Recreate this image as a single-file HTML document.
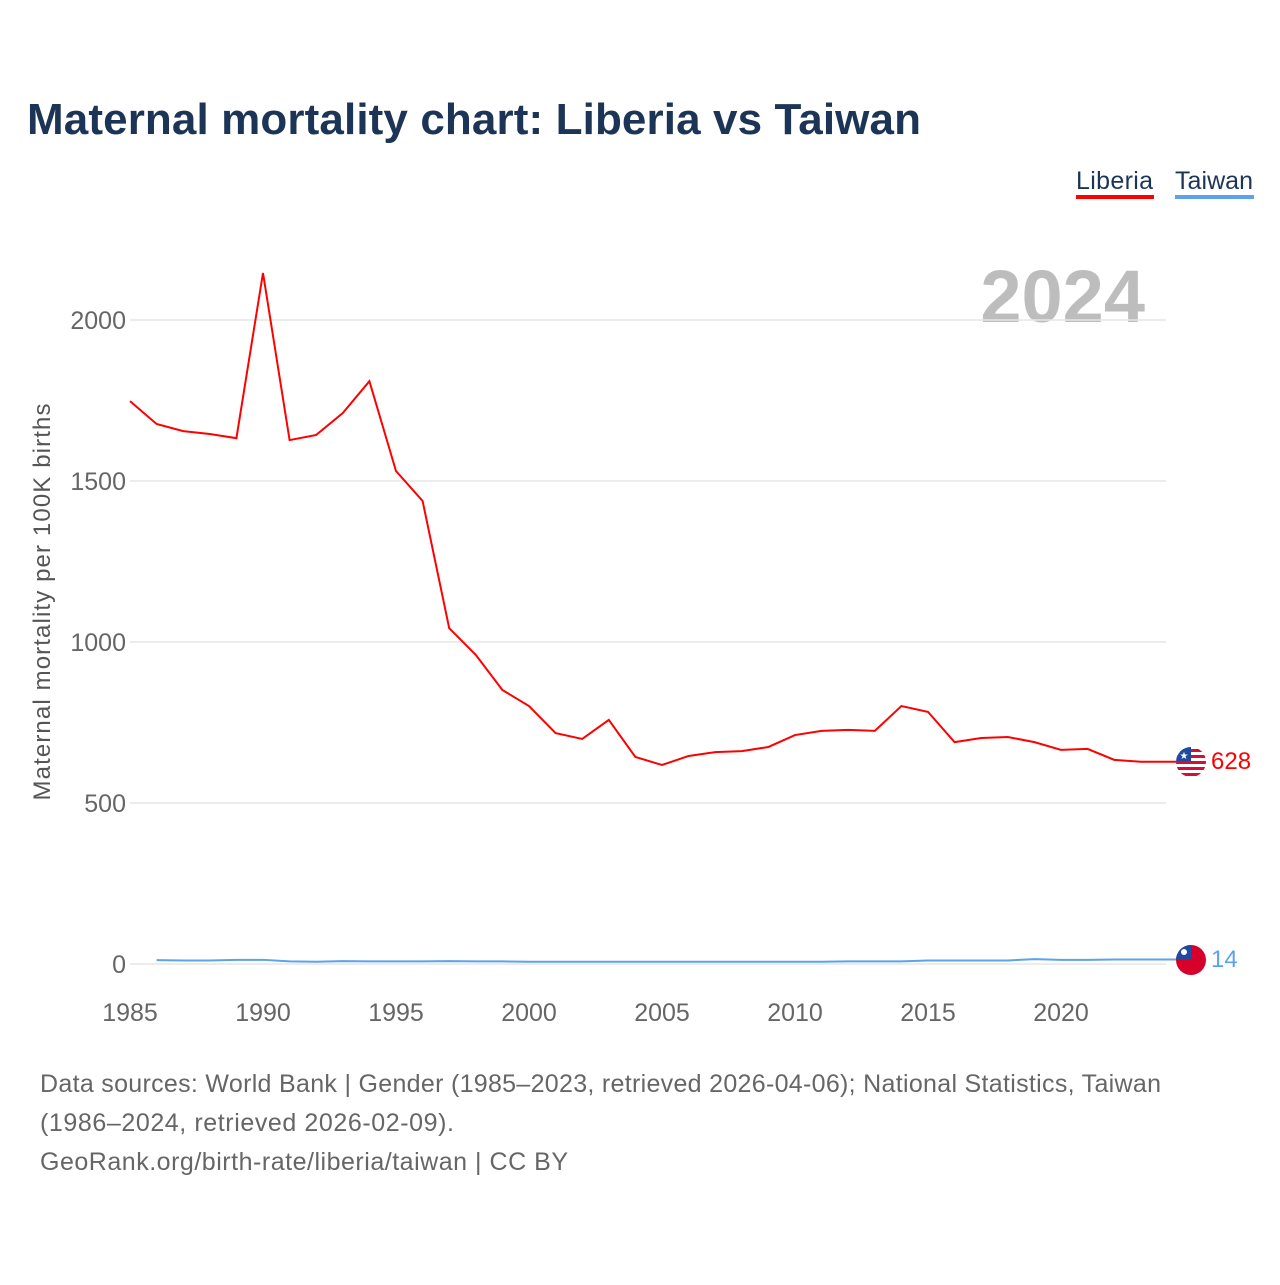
<!DOCTYPE html>
<html><head><meta charset="utf-8"><style>
body{margin:0;width:1280px;height:1280px;background:#fff;font-family:"Liberation Sans",sans-serif;overflow:hidden}
</style></head><body>
<svg width="1280" height="1280">
<defs>
<clipPath id="c1"><circle cx="1191" cy="762" r="15"/></clipPath>
<clipPath id="c2"><circle cx="1191" cy="960" r="15"/></clipPath>
</defs>
<text x="27" y="134" font-size="44" font-weight="bold" fill="#1c3557" textLength="894">Maternal mortality chart: Liberia vs Taiwan</text>
<g><text x="1076" y="189" font-size="25" fill="#1c3557" textLength="77">Liberia</text><rect x="1076" y="195" width="78" height="4" fill="#f00"/></g>
<g><text x="1175" y="189" font-size="25" fill="#1c3557" textLength="78">Taiwan</text><rect x="1175" y="195" width="79" height="4" fill="#5ba3ea"/></g>
<text x="1145" y="322" font-size="74" font-weight="bold" fill="#bdbdbd" text-anchor="end">2024</text>
<text transform="translate(50,602) rotate(-90)" font-size="24" fill="#555" text-anchor="middle" textLength="397">Maternal mortality per 100K births</text>
<g id="grid"></g><g id="lines"></g>
<g clip-path="url(#c1)">
<rect x="1176" y="747" width="30" height="30" fill="#fff"/>
<rect x="1176" y="749" width="30" height="3" fill="#d0103a"/><rect x="1176" y="755" width="30" height="3" fill="#d0103a"/><rect x="1176" y="761" width="30" height="3" fill="#d0103a"/><rect x="1176" y="767" width="30" height="3" fill="#d0103a"/><rect x="1176" y="773" width="30" height="3" fill="#d0103a"/>
<rect x="1176" y="747" width="15" height="14" fill="#1e4aa0"/><text x="1184" y="759" font-size="10" fill="#fff" text-anchor="middle">★</text></g>
<g clip-path="url(#c2)">
<rect x="1176" y="945" width="30" height="30" fill="#d7002a"/><rect x="1176" y="945" width="15" height="15" fill="#1e4aa0"/><circle cx="1184" cy="952" r="3" fill="#fff"/></g>
<text x="1211" y="769" font-size="24" fill="#f00">628</text>
<text x="1211" y="967" font-size="24" fill="#5ba3ea">14</text>
<text x="40" y="1092" font-size="25" fill="#666" textLength="1121">Data sources: World Bank | Gender (1985–2023, retrieved 2026-04-06); National Statistics, Taiwan</text>
<text x="40" y="1131" font-size="25" fill="#666" textLength="414">(1986–2024, retrieved 2026-02-09).</text>
<text x="40" y="1170" font-size="25" fill="#666" textLength="528">GeoRank.org/birth-rate/liberia/taiwan | CC BY</text>
</svg>
<script>
const yTicks=[0,500,1000,1500,2000];
const xTicks=[1985,1990,1995,2000,2005,2010,2015,2020];
const liberiaYears=[1985,1986,1987,1988,1989,1990,1991,1992,1993,1994,1995,1996,1997,1998,1999,2000,2001,2002,2003,2004,2005,2006,2007,2008,2009,2010,2011,2012,2013,2014,2015,2016,2017,2018,2019,2020,2021,2022,2023];
const liberiaValues=[1748,1677,1655,1646,1633,2146,1627,1643,1711,1810,1531,1438,1043,960,851,801,717,699,758,643,618,646,658,661,674,711,724,727,724,801,783,689,702,705,689,665,668,634,628];
const taiwanYears=[1986,1987,1988,1989,1990,1991,1992,1993,1994,1995,1996,1997,1998,1999,2000,2001,2002,2003,2004,2005,2006,2007,2008,2009,2010,2011,2012,2013,2014,2015,2016,2017,2018,2019,2020,2021,2022,2023,2024];
const taiwanValues=[12,11,11,13,13,8,7,9,8,8,8,9,8,8,7,7,7,7,7,7,7,7,7,7,7,7,8,8,8,11,11,11,11,15,13,13,14,14,14];
const NS='http://www.w3.org/2000/svg';
const x=v=>130+(v-1985)*(931/35);
const y=v=>964-v*0.322;
const grid=document.getElementById('grid'),lines=document.getElementById('lines');
yTicks.forEach(t=>{
 const l=document.createElementNS(NS,'line');
 
 
 l.setAttribute('x1',130);l.setAttribute('x2',1166);l.setAttribute('y1',y(t));l.setAttribute('y2',y(t));
 l.setAttribute('stroke','#e6e6e6');l.setAttribute('stroke-width',1.5);grid.appendChild(l);
 const tx=document.createElementNS(NS,'text');
 
 
 tx.setAttribute('x',126);tx.setAttribute('y',y(t)+9);tx.setAttribute('text-anchor','end');
 tx.setAttribute('font-size','25');tx.setAttribute('fill','#666');tx.textContent=t;grid.appendChild(tx);
});
xTicks.forEach(t=>{
 const tx=document.createElementNS(NS,'text');
 
 
 tx.setAttribute('x',x(t));tx.setAttribute('y',1021);tx.setAttribute('text-anchor','middle');
 tx.setAttribute('font-size','25');tx.setAttribute('fill','#666');tx.textContent=t;grid.appendChild(tx);
});
function line(xs,vs,color,name,endX){
 const p=document.createElementNS(NS,'polyline');
 
 
 const pts=xs.map((yr,i)=>x(yr)+','+y(vs[i]));
 pts.push(endX+','+y(vs[vs.length-1]));
 p.setAttribute('points',pts.join(' '));
 p.setAttribute('fill','none');p.setAttribute('stroke',color);p.setAttribute('stroke-width',2);
 lines.appendChild(p);
}
line(liberiaYears,liberiaValues,'#f00','liberia-line',1176);
line(taiwanYears,taiwanValues,'#5ba3ea','taiwan-line',1176);
</script>
</body></html>
